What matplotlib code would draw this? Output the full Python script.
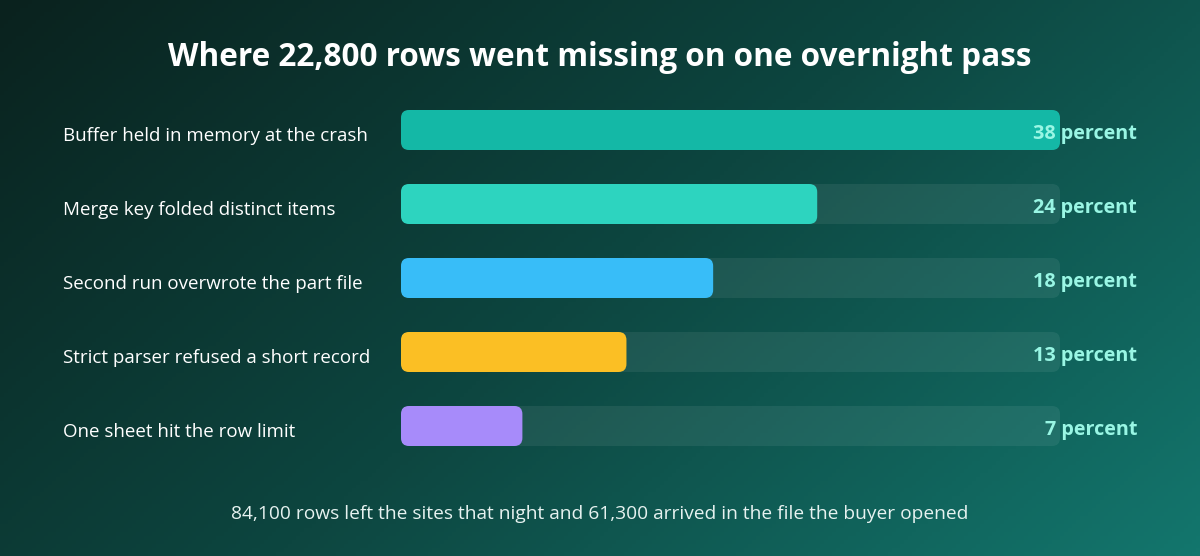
import numpy as np
import matplotlib
matplotlib.use("Agg")
import matplotlib.pyplot as plt
from matplotlib.patches import FancyBboxPatch
from matplotlib.colors import LinearSegmentedColormap
import matplotlib.transforms as mtransforms

# data
causes = [
    "Buffer held in memory at the crash",
    "Merge key folded distinct items",
    "Second run overwrote the part file",
    "Strict parser refused a short record",
    "One sheet hit the row limit",
]
shares = [38, 24, 18, 13, 7]
bar_colors = ["#14b8a6", "#2dd4bf", "#38bdf8", "#fbbf24", "#a78bfa"]
title = "Where 22,800 rows went missing on one overnight pass"
footer = "84,100 rows left the sites that night and 61,300 arrived in the file the buyer opened"

plt.rcParams["font.family"] = ["Open Sans", "DejaVu Sans"]

W, H, DPI = 1200, 556, 100
fig = plt.figure(figsize=(W / DPI, H / DPI), dpi=DPI)

# diagonal gradient background
bg = fig.add_axes([0, 0, 1, 1], zorder=0)
xx, yy = np.meshgrid(np.linspace(0, 1, 300), np.linspace(0, 1, 140))
t = (xx * 0.65 + yy * 0.35)
cmap = LinearSegmentedColormap.from_list("bg", ["#0a221e", "#0d4640", "#13766d"])
bg.imshow(t, cmap=cmap, aspect="auto", extent=[0, 1, 0, 1], origin="upper")
bg.set_axis_off()

# bar axes: x 0..max maps to px 401..1060, rows 74 px apart
left, right = 401, 1060
top_px, bot_px = 93, 463
ax = fig.add_axes([left / W, 1 - bot_px / H, (right - left) / W, (bot_px - top_px) / H], zorder=1)
ax.set_xlim(0, max(shares))
ax.set_ylim(len(causes) - 0.5, -0.5)
ax.set_axis_off()

px_x = (right - left) / max(shares)
px_y = (bot_px - top_px) / len(causes)
aspect = px_x / px_y
r = 8 / px_x
bh = 40 / px_y

for i, (lab, v, c) in enumerate(zip(causes, shares, bar_colors)):
    track = FancyBboxPatch((0, i - bh / 2), max(shares), bh,
                           boxstyle=f"round,pad=0,rounding_size={r}",
                           mutation_aspect=aspect, fc="white", alpha=0.07, ec="none")
    ax.add_patch(track)
    bar = FancyBboxPatch((0, i - bh / 2), v, bh,
                         boxstyle=f"round,pad=0,rounding_size={r}",
                         mutation_aspect=aspect, fc=c, ec="none")
    ax.add_patch(bar)
    ax.annotate(f"{v} percent", xy=(max(shares), i), xytext=(55.5, -3),
                textcoords="offset points", ha="right", va="center",
                color="#99f6e4", fontsize=14.2, fontweight="bold", annotation_clip=False)

trans = mtransforms.blended_transform_factory(fig.transFigure, ax.transData)
for i, lab in enumerate(causes):
    ax.annotate(lab, xy=(63 / W, i), xycoords=trans, xytext=(0, -4.3),
                textcoords="offset points", ha="left", va="center",
                color="white", fontsize=13.5, annotation_clip=False)

fig.text(0.5, 1 - 57 / H, title, ha="center", va="center", color="white",
         fontsize=22.7, fontweight="bold")
fig.text(0.5, 1 - 514 / H, footer, ha="center", va="center", color="#e6f2f0",
         fontsize=13.8)

fig.savefig("out.png", dpi=DPI)
